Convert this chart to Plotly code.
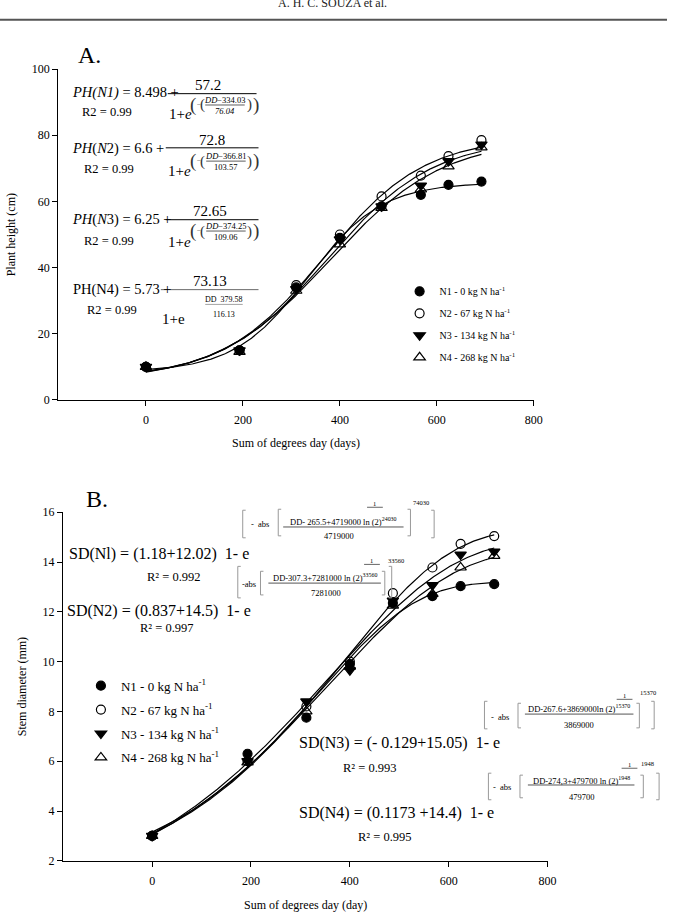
import numpy as np
import plotly.graph_objects as go

W, H = 676, 921
SERIF = "Liberation Serif"

# ---------------- data ----------------
series_names = ["N1 - 0 kg N ha<sup>-1</sup>", "N2 - 67 kg N ha<sup>-1</sup>",
                "N3 - 134 kg N ha<sup>-1</sup>", "N4 - 268 kg N ha<sup>-1</sup>"]
symbols = ["circle", "circle-open", "triangle-down", "triangle-up-open"]

dd_A = [0, 193, 310, 400, 486, 567, 624, 692]
ph_N1 = [10.0, 15.0, 34.0, 49.0, 58.5, 62.0, 65.0, 66.0]
ph_N2 = [10.0, 15.0, 34.7, 50.0, 61.5, 67.8, 73.7, 78.5]
ph_N3 = [10.0, 15.0, 33.5, 48.5, 58.5, 64.8, 72.2, 77.2]
ph_N4 = [10.0, 14.5, 33.0, 47.0, 58.0, 63.6, 70.6, 76.3]

dd_B = [0, 193, 312, 400, 487, 567, 624, 692]
sd_N1 = [3.0, 6.3, 7.75, 9.9, 12.35, 12.63, 13.03, 13.11]
sd_N2 = [3.0, 6.0, 8.2, 10.0, 12.75, 13.78, 14.73, 15.04]
sd_N3 = [3.0, 6.0, 8.4, 9.65, 12.45, 13.07, 14.3, 14.42]
sd_N4 = [3.0, 5.95, 8.0, 9.8, 12.25, 12.72, 13.78, 14.25]

# fitted model parameters printed on the chart
A_y0 = [8.498, 6.6, 6.25, 5.73]
A_a = [57.2, 72.8, 72.65, 73.13]
A_x0 = [334.03, 366.81, 374.25, 379.58]
A_b = [76.04, 103.57, 109.06, 116.13]

B_y0 = [1.18, 0.837, -0.129, 0.1173]
B_a = [12.02, 14.5, 15.05, 14.4]
B_x0 = [265.5, 307.3, 267.6, 274.3]
B_b = [4719000, 7281000, 3869000, 479700]
B_c = [24030, 33560, 15370, 1948]

x_ticks = [0, 200, 400, 600, 800]
yA_ticks = [0, 20, 40, 60, 80, 100]
yB_ticks = [2, 4, 6, 8, 10, 12, 14, 16]

# ---------------- helpers ----------------
def px(x):
    return x / W

def py(y):
    return 1 - y / H

anns, shapes = [], []

def T(x, y, text, size, xa="center", color="black", angle=0):
    anns.append(dict(x=px(x), y=py(y), xref="paper", yref="paper", text=text,
                     showarrow=False, font=dict(family=SERIF, size=size, color=color),
                     xanchor=xa, yanchor="middle", textangle=angle, borderpad=0))

def L(x0, y0, x1, y1, w=1, c="black"):
    shapes.append(dict(type="line", xref="paper", yref="paper", x0=px(x0), y0=py(y0),
                       x1=px(x1), y1=py(y1), line=dict(color=c, width=w)))

def LB(x, y0, y1, c="#999"):
    L(x, y0, x, y1, 1, c); L(x, y0, x + 3, y0, 1, c); L(x, y1, x + 3, y1, 1, c)

def RB(x, y0, y1, c="#999"):
    L(x, y0, x, y1, 1, c); L(x - 3, y0, x, y0, 1, c); L(x - 3, y1, x, y1, 1, c)

# ---------------- figure ----------------
fig = go.Figure()
ph_all = [ph_N1, ph_N2, ph_N3, ph_N4]
sd_all = [sd_N1, sd_N2, sd_N3, sd_N4]

xs_A = np.linspace(0, max(dd_A), 300)
for i in range(4):
    yc = A_y0[i] + A_a[i] / (1 + np.exp(-(xs_A - A_x0[i]) / A_b[i]))
    fig.add_trace(go.Scatter(x=xs_A, y=yc, mode="lines", line=dict(color="black", width=1.2),
                             showlegend=False, xaxis="x", yaxis="y", hoverinfo="skip"))
xs_B = np.linspace(0, max(dd_B), 300)
for i in range(4):
    base = np.abs(xs_B - B_x0[i] + B_b[i] * np.log(2) ** (1 / B_c[i])) / B_b[i]
    yc = B_y0[i] + B_a[i] * (1 - np.exp(-base ** B_c[i]))
    fig.add_trace(go.Scatter(x=xs_B, y=yc, mode="lines", line=dict(color="black", width=1.2),
                             showlegend=False, xaxis="x2", yaxis="y2", hoverinfo="skip"))

for i in range(4):
    sz = 9 if "circle" in symbols[i] else 10
    fig.add_trace(go.Scatter(x=dd_A, y=ph_all[i], mode="markers", name=series_names[i],
                             marker=dict(symbol=symbols[i], size=sz, color="black",
                                         line=dict(color="black", width=1.2)),
                             xaxis="x", yaxis="y", legend="legend",
                             legendgroup="a%d" % i))
for i in range(4):
    sz = 9 if "circle" in symbols[i] else 10
    fig.add_trace(go.Scatter(x=dd_B, y=sd_all[i], mode="markers", name=series_names[i],
                             marker=dict(symbol=symbols[i], size=sz, color="black",
                                         line=dict(color="black", width=1.2)),
                             xaxis="x2", yaxis="y2", legend="legend2",
                             legendgroup="b%d" % i))

axis_common = dict(showline=True, linecolor="black", linewidth=1.3, ticks="outside",
                   ticklen=5, tickwidth=1.2, tickcolor="black", showgrid=False,
                   zeroline=False, tickfont=dict(family=SERIF, size=12, color="black"))

fig.update_layout(
    width=W, height=H, margin=dict(l=0, r=0, t=0, b=0),
    paper_bgcolor="white", plot_bgcolor="white",
    xaxis=dict(domain=[px(59), px(541)], range=[-181, 800], tickvals=x_ticks,
               anchor="y", ticklabelstandoff=4, **axis_common),
    yaxis=dict(domain=[py(399), py(63)], range=[0, 100], tickvals=yA_ticks,
               anchor="x", **axis_common),
    xaxis2=dict(domain=[px(64), px(555)], range=[-180, 800], tickvals=x_ticks,
                anchor="y2", ticklabelstandoff=4, **axis_common),
    yaxis2=dict(domain=[py(867), py(513)], range=[2, 16], tickvals=yB_ticks,
                anchor="x2", **axis_common),
    legend=dict(x=px(405), y=py(274), xanchor="left", yanchor="top",
                font=dict(family=SERIF, size=10, color="black"),
                bgcolor="rgba(0,0,0,0)", itemclick=False, tracegroupgap=3),
    legend2=dict(x=px(82), y=py(674), xanchor="left", yanchor="top",
                 font=dict(family=SERIF, size=13, color="black"),
                 bgcolor="rgba(0,0,0,0)", itemclick=False, tracegroupgap=4),
)

# header
T(337, -4, "A. H. C. SOUZA et al.", 12, color="#222")
L(0, 13, 676, 13, 2, "#555")

# panel labels and axis titles
T(78, 49, "A.", 24, xa="left")
T(86, 500, "B.", 24, xa="left")
T(300, 443, "Sum of degrees day (days)", 12)
T(310, 912, "Sum of degrees day (day)", 12)
T(12, 231, "Plant height (cm)", 12, angle=-90)
T(22, 690, "Stem diameter (mm)", 12, angle=-90)

# ---------------- panel A equations ----------------
def logi_exp(xc, yc, num, den, xl=193, xr=262):
    T(xl + 3, yc, "(", 19, color="#333")
    T(xl + 8.5, yc, "−", 7, color="#333")
    T(xl + 12, yc, "(", 15, color="#333")
    T(xr - 9, yc, ")", 15, color="#333")
    T(xr - 3, yc, ")", 19, color="#333")
    T(xc, yc - 5.5, num, 8.5)
    L(xc - 20, yc, xc + 20, yc, 0.8, "#333")
    T(xc, yc + 6, den, 8.5)

T(72, 87, "<i>PH(N1)</i> = 8.498 +", 14.5, xa="left")
T(211, 79, "57.2", 15)
L(170, 88, 260, 88, 1)
T(183, 109, "1+<i>e</i>", 15)
logi_exp(228, 99.5, "<i>DD</i>−334.03", "<i>76.04</i>")
T(82, 107, "R2 = 0.99", 12.5, xa="left")

T(72, 144, "<i>PH</i>(<i>N</i>2) = 6.6 +", 14.5, xa="left")
T(215, 135, "72.8", 15)
L(168, 143, 262, 143, 1)
T(182, 167, "1+<i>e</i>", 15)
logi_exp(229, 156.5, "<i>DD</i>−366.81", "103.57")
T(84, 164, "R2 = 0.99", 12.5, xa="left")

T(72, 216, "<i>PH</i>(<i>N</i>3) = 6.25 +", 14.5, xa="left")
T(213, 207, "72.65", 15)
L(168, 216, 262, 216, 1)
T(182, 239, "1+<i>e</i>", 15)
logi_exp(229, 227.5, "<i>DD</i>−374.25", "109.06")
T(84, 238, "R2 = 0.99", 12.5, xa="left")

T(73, 287, "PH(N4) = 5.73 +", 14.5, xa="left")
T(213, 278, "73.13", 15)
L(163, 287, 262, 287, 0.8, "#444")
T(227, 297, "DD  379.58", 8)
L(208, 302, 246, 302, 0.6, "#666")
T(227, 312, "116.13", 8)
T(176, 317, "1+e", 15)
T(87, 308, "R2 = 0.99", 12.5, xa="left")

# ---------------- panel B equations ----------------
NB = "\u00a0"
T(69, 555, "SD(Nl) = (1.18+12.02)" + NB * 2 + "1- e", 16, xa="left")
T(176, 579, "R² = 0.992", 12.5)
T(67, 613, "SD(N2) = (0.837+14.5)" + NB * 2 + "1- e", 16, xa="left")
T(169, 631, "R² = 0.997", 12.5)
T(302, 747, "SD(N3) = (- 0.129+15.05)" + NB * 2 + "1- e", 16, xa="left")
T(375, 773, "R² = 0.993", 12.5)
T(302, 818, "SD(N4) = (0.1173 +14.4)" + NB * 2 + "1- e", 16, xa="left")
T(390, 843, "R² = 0.995", 12.5)

def weib_exp(ol, or_, oy0, oy1, ma_x, ma_txt, il, ir, iy0, iy1,
             ncx, ny, num, bar0, bar1, by, dcx, dy, den, onex, oney, sup_x, sup_y, sup):
    LB(ol, oy0, oy1)
    RB(or_, oy0, oy1)
    LB(il, iy0, iy1)
    RB(ir, iy0, iy1)
    T(ma_x, (iy0 + iy1) / 2 + 1, ma_txt, 8.5)
    T(ncx, ny, num, 8.5)
    L(bar0, by, bar1, by, 1, "#555")
    T(dcx, dy, den, 8.5)
    T(onex, oney, "1", 6.5)
    L(onex - 8, oney + 4, onex + 8, oney + 4, 1, "#666")
    T(sup_x, sup_y, sup, 6.5)

weib_exp(246, 440, 511, 539, 264, "-" + NB * 2 + "abs", 282, 416, 510, 537,
         348, 522, "DD- 265.5+4719000 ln (2)<sup>24030</sup>", 287, 409, 528,
         344, 537, "4719000", 380, 504, 427, 503, "74030")
weib_exp(241, 397, 568, 600, 252, "-abs", 264, 390, 573, 597,
         329, 579, "DD-307.3+7281000 ln (2)<sup>33560</sup>", 272, 386, 585,
         330, 595, "7281000", 377, 562, 401, 562, "33560")
weib_exp(491, 663, 705, 733, 507, "-" + NB * 2 + "abs", 525, 648, 707, 732,
         587, 712, "DD-267.6+3869000ln (2)<sup>15370</sup>", 532, 642, 718,
         587, 729, "3869000", 633, 699, 657, 696, "15370")
weib_exp(495, 668, 778, 805, 509, "-" + NB * 2 + "abs", 527, 652, 780, 803,
         589, 785, "DD-274,3+479700 ln (2)<sup>1948</sup>", 535, 643, 790,
         590, 802, "479700", 638, 769, 656, 768, "1948")

fig.update_layout(annotations=anns, shapes=shapes)
fig.write_html("out.html")
